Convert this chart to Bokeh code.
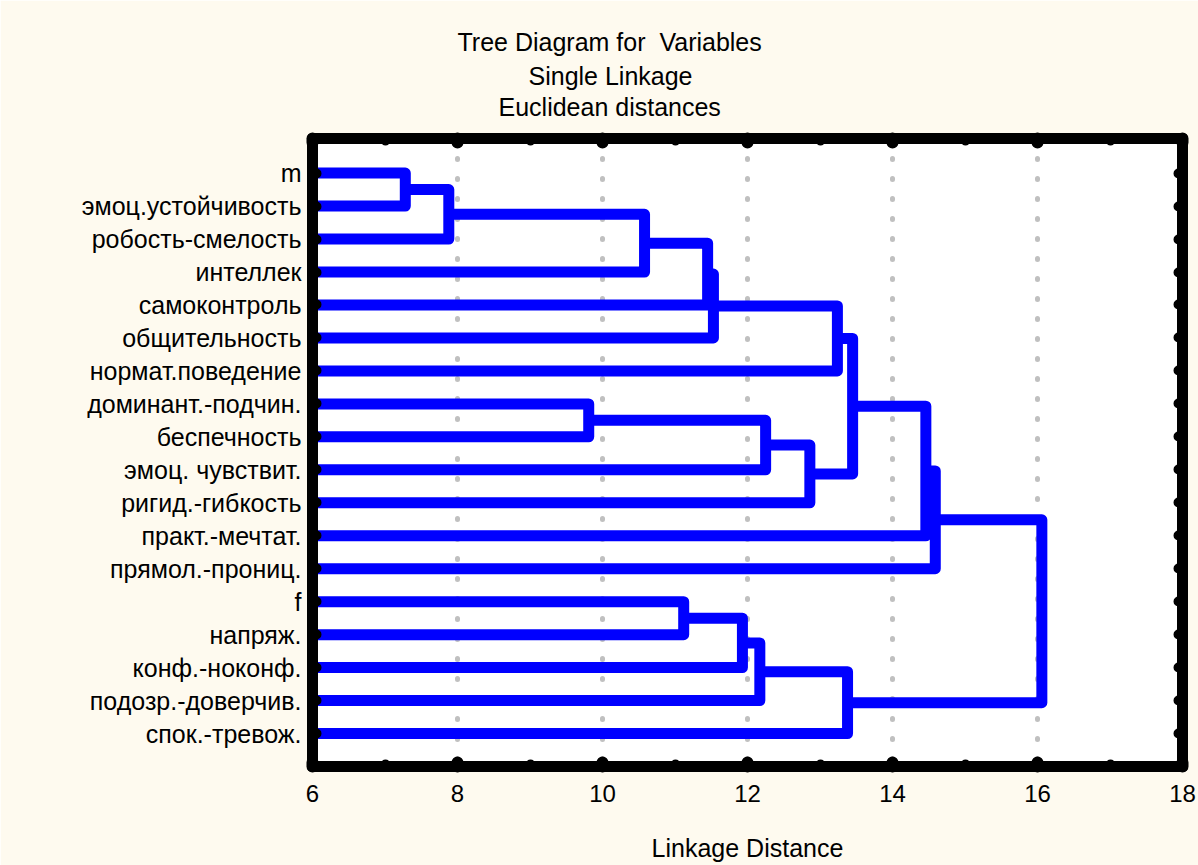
from bokeh.plotting import figure
from bokeh.models import Range1d, LinearAxis, FixedTicker, Title
from bokeh.embed import file_html
from bokeh.resources import INLINE

# ---- data ----
labels = ["m", "эмоц.устойчивость", "робость-смелость", "интеллек", "самоконтроль",
          "общительность", "нормат.поведение", "доминант.-подчин.", "беспечность",
          "эмоц. чувствит.", "ригид.-гибкость", "практ.-мечтат.", "прямол.-прониц.",
          "f", "напряж.", "конф.-ноконф.", "подозр.-доверчив.", "спок.-тревож."]
# merges: leaves are 0..17, merged clusters numbered 18, 19, ... in order
merge_a = [0, 18, 19, 7, 13, 20, 23, 22, 25, 21, 27, 24, 26, 29, 31, 32, 33]
merge_b = [1, 2, 3, 8, 14, 4, 5, 15, 16, 9, 10, 6, 17, 28, 11, 12, 30]
merge_dist = [7.28, 7.88, 10.58, 9.81, 11.12, 11.45, 11.53, 11.93, 12.17,
              12.25, 12.86, 13.24, 13.38, 13.45, 14.46, 14.59, 16.06]
x_ticks = [6, 8, 10, 12, 14, 16, 18]
x_minor_ticks = [7, 9, 11, 13, 15, 17]
title_lines = ["Tree Diagram for  Variables", "Single Linkage", "Euclidean distances"]
x_axis_title = "Linkage Distance"

FONT = "Liberation Sans"
n = len(labels)

p = figure(frame_width=870, frame_height=628,
           min_border_left=312, min_border_right=16, min_border_top=138, min_border_bottom=99,
           x_range=Range1d(6, 18), y_range=Range1d(19.0, -0.05),
           output_backend="svg", toolbar_location=None, title=None,
           background_fill_color="white", border_fill_color="#FEFAEF")
p.outline_line_color = None

bottom_ax = p.below[0]
left_ax = p.left[0]

xticker = FixedTicker(ticks=x_ticks, minor_ticks=x_minor_ticks)
yticker = FixedTicker(ticks=list(range(1, n + 1)), minor_ticks=[])

top_ax = LinearAxis(ticker=xticker)
right_ax = LinearAxis(ticker=yticker)
p.add_layout(top_ax, "above")
p.add_layout(right_ax, "right")

# invisible spacer between the top border and the title lines
spacer_ax = LinearAxis(ticker=FixedTicker(ticks=[x_ticks[0]], minor_ticks=[]))
spacer_ax.axis_line_color = None
spacer_ax.major_tick_in = 0
spacer_ax.major_tick_out = 17
spacer_ax.major_tick_line_color = None
spacer_ax.minor_tick_line_color = None
spacer_ax.major_label_overrides = {x_ticks[0]: ""}
spacer_ax.major_label_text_font_size = "2px"
spacer_ax.major_label_standoff = 0
p.add_layout(spacer_ax, "above")

bottom_ax.ticker = xticker
left_ax.ticker = yticker
left_ax.major_label_overrides = {i + 1: lab for i, lab in enumerate(labels)}


def style_axis(ax, major_w, minor_w):
    ax.axis_line_width = 11
    ax.axis_line_color = "black"
    ax.axis_line_cap = "round"
    ax.axis_line_join = "round"
    ax.major_tick_in = 4
    ax.major_tick_out = 0
    ax.major_tick_line_width = major_w
    ax.major_tick_line_cap = "round"
    ax.major_tick_line_color = "black"
    ax.minor_tick_in = 3
    ax.minor_tick_out = 0
    ax.minor_tick_line_width = minor_w
    ax.minor_tick_line_cap = "round"
    ax.minor_tick_line_color = "black"
    ax.major_label_text_font = FONT
    ax.major_label_text_color = "black"


style_axis(bottom_ax, 12, 8)
style_axis(top_ax, 12, 8)
style_axis(left_ax, 10, 0)
style_axis(right_ax, 10, 0)

top_ax.major_label_overrides = {t: "" for t in x_ticks}
right_ax.major_label_overrides = {i + 1: "" for i in range(n)}
for ax in (top_ax, right_ax):
    ax.major_label_text_font_size = "2px"
    ax.major_label_standoff = 0

bottom_ax.major_label_text_font_size = "24px"
bottom_ax.major_label_standoff = 18
bottom_ax.axis_label = x_axis_title
bottom_ax.axis_label_text_font = FONT
bottom_ax.axis_label_text_font_size = "25px"
bottom_ax.axis_label_text_font_style = "normal"
bottom_ax.axis_label_text_color = "black"
bottom_ax.axis_label_standoff = 29

left_ax.major_label_text_font_size = "25px"
left_ax.major_label_standoff = 11

p.xgrid.ticker = xticker
p.xgrid.grid_line_color = "#C0C0C0"
p.xgrid.grid_line_width = 5
p.xgrid.grid_line_dash = "1 19"
p.xgrid.grid_line_cap = "round"
p.ygrid.visible = False

# ---- dendrogram ----
ypos = {i: i + 1.0 for i in range(n)}
xstart = {i: 6.0 for i in range(n)}
xs, ys = [], []
for k, (a, b, d) in enumerate(zip(merge_a, merge_b, merge_dist)):
    xs.append([xstart[a], d, d, xstart[b]])
    ys.append([ypos[a], ypos[a], ypos[b], ypos[b]])
    new = n + k
    ypos[new] = (ypos[a] + ypos[b]) / 2.0
    xstart[new] = d

p.multi_line(xs, ys, line_color="#0000FF", line_width=11, line_join="round")

# ---- titles (added nearest-first) ----
title_offsets = [145, 216, 186]
title_standoffs = [8, 0, 2]
for txt, off, so in reversed(list(zip(title_lines, title_offsets, title_standoffs))):
    shown = txt.replace("  ", " \u00a0")
    p.add_layout(Title(text=shown, align="left", offset=off, standoff=so,
                       text_font=FONT, text_font_size="25px",
                       text_font_style="normal", text_color="black"), "above")

open("out.html", "w").write(file_html(p, INLINE))
